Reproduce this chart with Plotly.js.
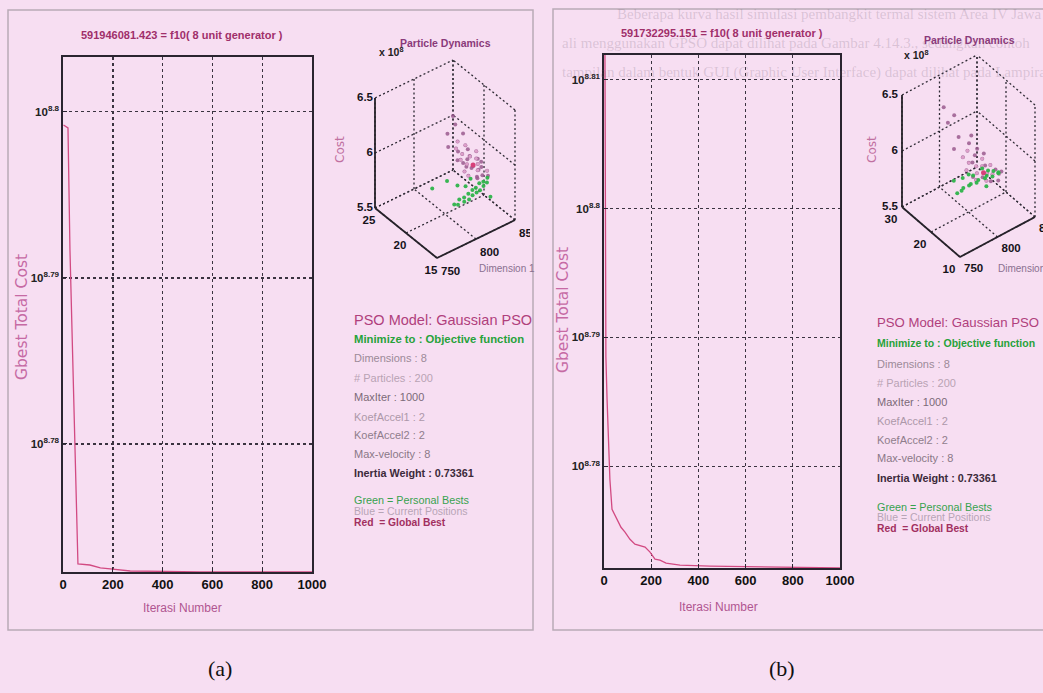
<!DOCTYPE html>
<html>
<head>
<meta charset="utf-8">
<script src="https://cdn.plot.ly/plotly-3.0.1.min.js"></script>
<style>
  html, body { margin: 0; padding: 0; background: #f7def2; }
  #chart { width: 1043px; height: 693px; }
</style>
</head>
<body>
<div id="chart"></div>
<script>
// ---- Gbest convergence, run (a) ----
const iterA = [2, 20, 28, 36, 48, 60, 108, 150, 190, 270, 550, 1000];
const costA = [629810000, 629550000, 618960000, 612110000, 601990000, 592610000,
               592520000, 592280000, 592200000, 592030000, 591960000, 591946081.423];

// ---- Gbest convergence, run (b) ----
const iterB = [1, 8, 13, 17, 25, 34, 55, 72, 89, 110, 131, 174, 195, 216, 237, 263, 322, 449, 1000];
const costB = [676080000, 614480000, 609790000, 606220000, 601160000, 597960000, 596900000,
               596050000, 595530000, 594770000, 594250000, 593940000, 593410000, 592660000,
               592560000, 592240000, 592030000, 591930000, 591732295.151];

const xTicks = [0, 200, 400, 600, 800, 1000];
const yExpA = [8.78, 8.79, 8.8];
const yExpB = [8.78, 8.79, 8.8, 8.81];

// ---- particle swarm snapshot (a): Dimension 1, Dimension 2, Cost (x 1e8) ----
const pbestAx = [796, 800, 804, 808, 811, 815, 818, 821, 824, 827, 830, 833, 836, 839, 842, 845, 848, 812, 820, 828, 836, 805, 790];
const pbestAy = [18.0, 17.9, 18.2, 17.9, 18.3, 18.0, 18.5, 18.2, 18.6, 18.3, 18.8, 18.5, 19.0, 18.7, 19.1, 18.9, 19.2, 19.5, 19.2, 19.4, 17.2, 20.3, 20.8];
const pbestAz = [5.69, 5.68, 5.70, 5.68, 5.69, 5.67, 5.69, 5.68, 5.70, 5.68, 5.69, 5.67, 5.70, 5.68, 5.69, 5.68, 5.70, 5.74, 5.72, 5.75, 5.66, 5.77, 5.73];
const posAx = [825, 832, 838, 842, 846, 828, 834, 840, 844, 830, 836, 842, 848, 826, 833, 839, 845, 829, 835, 841, 820, 827, 837, 843, 831, 838, 824, 834, 846, 840, 832, 844, 836, 828, 842, 848];
const posAy = [20, 20.5, 19.5, 20, 19, 21, 21.5, 21, 20.5, 22, 22.5, 22, 21, 19.5, 19, 19.5, 19.8, 20.2, 20.8, 21.2, 22, 23, 23, 22.5, 21.8, 23.5, 21, 20, 20.5, 19, 18.8, 18.6, 20, 20.6, 21.6, 20.2];
const posAz = [5.80, 5.82, 5.79, 5.81, 5.78, 5.85, 5.86, 5.84, 5.83, 5.90, 5.92, 5.89, 5.86, 5.78, 5.77, 5.79, 5.78, 5.82, 5.84, 5.83, 5.95, 6.00, 6.05, 5.97, 5.88, 6.10, 5.86, 5.80, 5.82, 5.76, 5.77, 5.76, 5.81, 5.84, 5.87, 5.80];
const gbestA = [836, 20, 5.82];

// ---- particle swarm snapshot (b) ----
const pbestBx = [785, 790, 795, 800, 805, 810, 815, 820, 825, 830, 834, 838, 800, 812, 824, 792, 818, 806, 828, 836];
const pbestBy = [20, 19.8, 20.5, 19.8, 20.5, 19.8, 20.5, 19.5, 20.2, 19.5, 20.2, 19.5, 22, 21.5, 21.5, 23, 18.5, 21.5, 20.5, 19];
const pbestBz = [5.72, 5.73, 5.72, 5.74, 5.72, 5.73, 5.72, 5.74, 5.73, 5.72, 5.74, 5.73, 5.76, 5.75, 5.77, 5.74, 5.70, 5.78, 5.76, 5.74];
const posBx = [810, 815, 820, 825, 830, 835, 805, 812, 818, 824, 828, 833, 808, 816, 822, 827, 832, 800, 810, 820, 825, 815, 822, 830, 806, 788, 794, 808, 836, 840, 826, 813];
const posBy = [20, 21, 19, 20, 19.5, 18.5, 22, 23, 22, 21.5, 22.5, 21, 24, 24.5, 23.5, 24, 23, 25, 26, 25, 25.5, 19, 18, 17.5, 20, 24, 27, 27, 20, 19, 21, 22];
const posBz = [5.75, 5.77, 5.73, 5.76, 5.74, 5.75, 5.81, 5.83, 5.80, 5.79, 5.82, 5.78, 5.87, 5.89, 5.85, 5.88, 5.84, 5.95, 6.00, 5.93, 5.97, 5.78, 5.74, 5.73, 5.79, 6.25, 6.30, 6.18, 5.75, 5.74, 5.80, 5.85];
const gbestB = [820, 20, 5.78];

// 3-D axis ticks
const dimTicks = [750, 800, 850];
const dim2TicksA = [15, 20, 25];
const dim2TicksB = [10, 20, 30];
const costTicks = [5.5, 6, 6.5];

// ---- side panel texts: [text, colour, size, weight] ----
const titleA = '591946081.423 = f10( 8 unit generator )';
const titleB = '591732295.151 = f10( 8 unit generator )';
const infoLines = [
  ['PSO Model: Gaussian PSO', '#b0407c', 14.5, 400],
  ['Minimize to : Objective function', '#27a23a', 11.3, 700],
  ['Dimensions : 8', '#9c8a98', 11, 400],
  ['# Particles : 200', '#b9a3b4', 11, 400],
  ['MaxIter : 1000', '#7c6a78', 11, 400],
  ['KoefAccel1 : 2', '#ad98a9', 11, 400],
  ['KoefAccel2 : 2', '#8f7d8c', 11, 400],
  ['Max-velocity : 8', '#8a7887', 11, 400],
  ['Inertia Weight : 0.73361', '#3c2a3a', 10.8, 700],
  ['Green = Personal Bests', '#37a24f', 10.8, 400],
  ['Blue = Current Positions', '#b7a5b6', 10.5, 400],
  ['Red  = Global Best', '#a2305f', 10.3, 700]
];
const infoYA = [320, 339, 358, 378, 397, 417, 435, 454, 473, 500, 511, 522];
const infoYB = [322, 343, 364, 383, 402, 421, 440, 458, 478, 507, 517, 528];
const sizeScaleB = [0.91, 0.93, 1, 1, 1, 1, 1, 1, 1, 1, 1, 1];

const W = 1043, H = 693;
const px = v => v / W;
const py = v => 1 - v / H;
const SANS = '"Liberation Sans", Arial, sans-serif';
const WIDE = '"DejaVu Sans", "Liberation Sans", sans-serif';
const SERIF = '"Liberation Serif", "Times New Roman", serif';
const expLabel = e => '10<sup>' + e + '</sup>';

const traces = [
  { type: 'scatter', mode: 'lines', x: iterA, y: costA, xaxis: 'x', yaxis: 'y',
    line: { color: '#d24a82', width: 1.3 }, hoverinfo: 'skip', showlegend: false },
  { type: 'scatter', mode: 'lines', x: iterB, y: costB, xaxis: 'x2', yaxis: 'y2',
    line: { color: '#d24a82', width: 1.3 }, hoverinfo: 'skip', showlegend: false }
];

// ---- oblique 3-D view (az about -38 deg, el about 39 deg) drawn on flat axes ----
// origin = screen position of (xmin, ymin, zmin); ex/ey/ez = screen vectors of the full x/y/z spans
const views = [
  { region: [330, 530, 40, 285],
    origin: [437, 258], ex: [78, -38], ey: [-62, -50], ez: [0, -110],
    xr: [750, 850], yr: [15, 25], zr: [5.5, 6.5], yt: dim2TicksA,
    zOff: -2, yOff: [-6, 13], xOff: [4, 14],
    pos: [posAx, posAy, posAz], pbest: [pbestAx, pbestAy, pbestAz], gbest: gbestA },
  { region: [860, 1043, 40, 285],
    origin: [960, 257], ex: [75, -40], ey: [-58, -50], ez: [0, -112],
    xr: [750, 850], yr: [10, 30], zr: [5.5, 6.5], yt: dim2TicksB,
    zOff: -4, yOff: [-11, 13], xOff: [4, 12],
    pos: [posBx, posBy, posBz], pbest: [pbestBx, pbestBy, pbestBz], gbest: gbestB }
];

const layoutExtra = {};
views.forEach((v, idx) => {
  const xa = idx === 0 ? 'x3' : 'x4', ya = idx === 0 ? 'y3' : 'y4';
  const P = (x, y, z) => {
    const u = (x - v.xr[0]) / (v.xr[1] - v.xr[0]);
    const t = (y - v.yr[0]) / (v.yr[1] - v.yr[0]);
    const w = (z - v.zr[0]) / (v.zr[1] - v.zr[0]);
    return [v.origin[0] + u * v.ex[0] + t * v.ey[0] + w * v.ez[0],
            v.origin[1] + u * v.ex[1] + t * v.ey[1] + w * v.ez[1]];
  };
  const seg = (arr, a, b) => { arr.push(a, b, [null, null]); };
  const [x0, x1] = v.xr, [y0, y1] = v.yr, [z0, z1] = v.zr;

  // dotted grid on the floor and the two back walls
  const g = [];
  dimTicks.forEach(x => { seg(g, P(x, y0, z0), P(x, y1, z0)); seg(g, P(x, y1, z0), P(x, y1, z1)); });
  v.yt.forEach(y => { seg(g, P(x0, y, z0), P(x1, y, z0)); seg(g, P(x1, y, z0), P(x1, y, z1)); });
  costTicks.forEach(z => { seg(g, P(x0, y1, z), P(x1, y1, z)); seg(g, P(x1, y0, z), P(x1, y1, z)); });
  traces.push({ type: 'scatter', mode: 'lines', xaxis: xa, yaxis: ya,
    x: g.map(p => p[0]), y: g.map(p => p[1]),
    line: { color: '#2e2a34', width: 1.3, dash: '2px,2.5px' }, hoverinfo: 'skip', showlegend: false });

  // solid axis lines
  const s = [];
  seg(s, P(x0, y0, z0), P(x1, y0, z0));
  seg(s, P(x0, y0, z0), P(x0, y1, z0));
  seg(s, P(x0, y1, z0), P(x0, y1, z1));
  traces.push({ type: 'scatter', mode: 'lines', xaxis: xa, yaxis: ya,
    x: s.map(p => p[0]), y: s.map(p => p[1]),
    line: { color: '#26222a', width: 1.8 }, hoverinfo: 'skip', showlegend: false });

  // particles
  const addPts = (X, Y, Z, color, size, opacity) => {
    const pts = X.map((xx, i) => P(xx, Y[i], Z[i]));
    traces.push({ type: 'scatter', mode: 'markers', xaxis: xa, yaxis: ya,
      x: pts.map(p => p[0]), y: pts.map(p => p[1]),
      marker: { color: color, size: size, opacity: opacity, line: { width: 0 } },
      hoverinfo: 'skip', showlegend: false });
  };
  addPts(v.pos[0], v.pos[1], v.pos[2], '#9a5a8e', 4, 0.85);
  addPts(v.pos[0].slice(0, 14), v.pos[1].slice(0, 14), v.pos[2].slice(0, 14), '#e2a4ce', 3.2, 0.9);
  addPts(v.pbest[0], v.pbest[1], v.pbest[2], '#2db34a', 4, 0.95);
  addPts([v.gbest[0]], [v.gbest[1]], [v.gbest[2]], '#d8407a', 5, 1);

  // tick labels
  const lbl = [];
  costTicks.forEach(z => { const p = P(x0, y1, z); lbl.push([p[0] + v.zOff, p[1], String(z), 'middle left']); });
  v.yt.forEach(y => { const p = P(x0, y, z0); lbl.push([p[0] + v.yOff[0], p[1] + v.yOff[1], String(y), 'middle center']); });
  dimTicks.forEach(x => { const p = P(x, y0, z0); lbl.push([p[0] + v.xOff[0], p[1] + v.xOff[1], String(x), 'middle right']); });
  traces.push({ type: 'scatter', mode: 'text', xaxis: xa, yaxis: ya,
    x: lbl.map(l => l[0]), y: lbl.map(l => l[1]), text: lbl.map(l => l[2]),
    textposition: lbl.map(l => l[3]), cliponaxis: true,
    textfont: { family: SANS, size: 11.5, color: '#15121a', weight: 700 },
    hoverinfo: 'skip', showlegend: false });

  const hidden = { showgrid: false, zeroline: false, showticklabels: false, showline: false, ticks: '', fixedrange: true };
  layoutExtra[xa.replace('x', 'xaxis')] = Object.assign({}, hidden, {
    domain: [px(v.region[0]), px(v.region[1])], range: [v.region[0], v.region[1]], anchor: ya });
  layoutExtra[ya.replace('y', 'yaxis')] = Object.assign({}, hidden, {
    domain: [py(v.region[3]), py(v.region[2])], range: [v.region[3], v.region[2]], anchor: xa });
});

const xAxisBase = {
  range: [0, 1000], tickvals: xTicks, ticktext: xTicks.map(String),
  showgrid: true, gridcolor: '#3a3340', griddash: 'dot', gridwidth: 1.4,
  showline: true, mirror: true, linecolor: '#2a2430', linewidth: 1.6,
  ticks: 'inside', ticklen: 4, tickcolor: '#2a2430', zeroline: false,
  tickfont: { family: SANS, size: 13, color: '#111', weight: 700 }
};
const yAxisBase = {
  type: 'log', showgrid: true, gridcolor: '#3a3340', griddash: 'dot', gridwidth: 1.4,
  showline: true, mirror: true, linecolor: '#2a2430', linewidth: 1.6,
  ticks: 'inside', ticklen: 4, tickcolor: '#2a2430', zeroline: false,
  tickfont: { family: SANS, size: 11.5, color: '#222', weight: 700 }
};

const annotations = [];
const addText = (text, x, y, opts) => annotations.push(Object.assign({
  xref: 'paper', yref: 'paper', x: px(x), y: py(y), text: text, showarrow: false,
  xanchor: 'left', yanchor: 'middle'
}, opts));

// faint text of the printed page underneath
const bleed = { font: { family: SERIF, size: 15, color: 'rgba(110,90,110,0.22)' } };
addText('Beberapa kurva hasil simulasi pembangkit termal sistem Area IV Jawa', 615, 14, bleed);
addText('ali menggunakan GPSO dapat dilihat pada Gambar 4.14.3., sedangkan contoh', 560, 43, bleed);
addText('tampilan dalam bentuk GUI (Graphic User Interface) dapat dilihat pada Lampiran', 560, 72, bleed);

// line-plot titles and axis titles
addText(titleA, 182, 35, { xanchor: 'center', font: { family: SANS, size: 11, color: '#a02f6a', weight: 700 } });
addText(titleB, 722, 33, { xanchor: 'center', font: { family: SANS, size: 11, color: '#a02f6a', weight: 700 } });
addText('Gbest Total Cost', 22, 317, { xanchor: 'center', textangle: -90, font: { family: WIDE, size: 15.5, color: '#c66aa4' } });
addText('Gbest Total Cost', 563, 310, { xanchor: 'center', textangle: -90, font: { family: WIDE, size: 15.5, color: '#c66aa4' } });
addText('Iterasi Number', 182, 608, { xanchor: 'center', font: { family: SANS, size: 12, color: '#b05590' } });
addText('Iterasi Number', 718, 607, { xanchor: 'center', font: { family: SANS, size: 12, color: '#b05590' } });

// 3-D panel labels
[[377, 52, 398, 43, 340, 150, 477, 268], [902, 55, 922, 40, 872, 150, 996, 268]].forEach(p => {
  addText('x 10<sup>8</sup>', p[0], p[1], { font: { family: SANS, size: 10.5, color: '#222', weight: 700 } });
  addText('Particle Dynamics', p[2], p[3], { font: { family: SANS, size: 10.5, color: '#8a3a7a', weight: 700 } });
  addText('Cost', p[4], p[5], { xanchor: 'center', textangle: -90, font: { family: WIDE, size: 12, color: '#c070a0' } });
  addText('Dimension 1', p[6], p[7], { font: { family: SANS, size: 10, color: '#8a7090' } });
});

// parameter panels
infoLines.forEach((l, i) => {
  addText(l[0], 352, infoYA[i], { font: { family: SANS, size: l[2], color: l[1], weight: l[3] } });
  addText(l[0], 875, infoYB[i], { font: { family: SANS, size: l[2] * sizeScaleB[i], color: l[1], weight: l[3] } });
});

// sub-figure captions
addText('(a)', 220, 668, { xanchor: 'center', font: { family: SERIF, size: 22, color: '#111' } });
addText('(b)', 782, 668, { xanchor: 'center', font: { family: SERIF, size: 22, color: '#111' } });

const shapes = [
  { type: 'rect', xref: 'paper', yref: 'paper', x0: px(8), x1: px(533), y0: py(630), y1: py(10),
    line: { color: '#b9aab6', width: 1.5 } },
  { type: 'rect', xref: 'paper', yref: 'paper', x0: px(553), x1: px(1050), y0: py(630), y1: py(9),
    line: { color: '#b9aab6', width: 1.5 } }
];

const layout = Object.assign({
  width: W, height: H, margin: { l: 0, r: 0, t: 0, b: 0 },
  paper_bgcolor: '#f7def2', plot_bgcolor: 'rgba(0,0,0,0)',
  showlegend: false, hovermode: false,
  xaxis: Object.assign({}, xAxisBase, { domain: [px(63), px(312)], anchor: 'y' }),
  yaxis: Object.assign({}, yAxisBase, {
    domain: [py(572), py(57)], anchor: 'x',
    range: [Math.log10(costA[costA.length - 1]), 8.8033],
    tickvals: yExpA.map(e => Math.pow(10, e)), ticktext: yExpA.map(e => expLabel(e))
  }),
  xaxis2: Object.assign({}, xAxisBase, { domain: [px(604), px(840)], anchor: 'y2' }),
  yaxis2: Object.assign({}, yAxisBase, {
    domain: [py(568), py(55)], anchor: 'x2',
    range: [Math.log10(costB[costB.length - 1]), 8.8119],
    tickvals: yExpB.map(e => Math.pow(10, e)), ticktext: yExpB.map(e => expLabel(e))
  }),
  annotations: annotations,
  shapes: shapes
}, layoutExtra);

Plotly.newPlot('chart', traces, layout, { displayModeBar: false, staticPlot: true });
</script>
</body>
</html>
